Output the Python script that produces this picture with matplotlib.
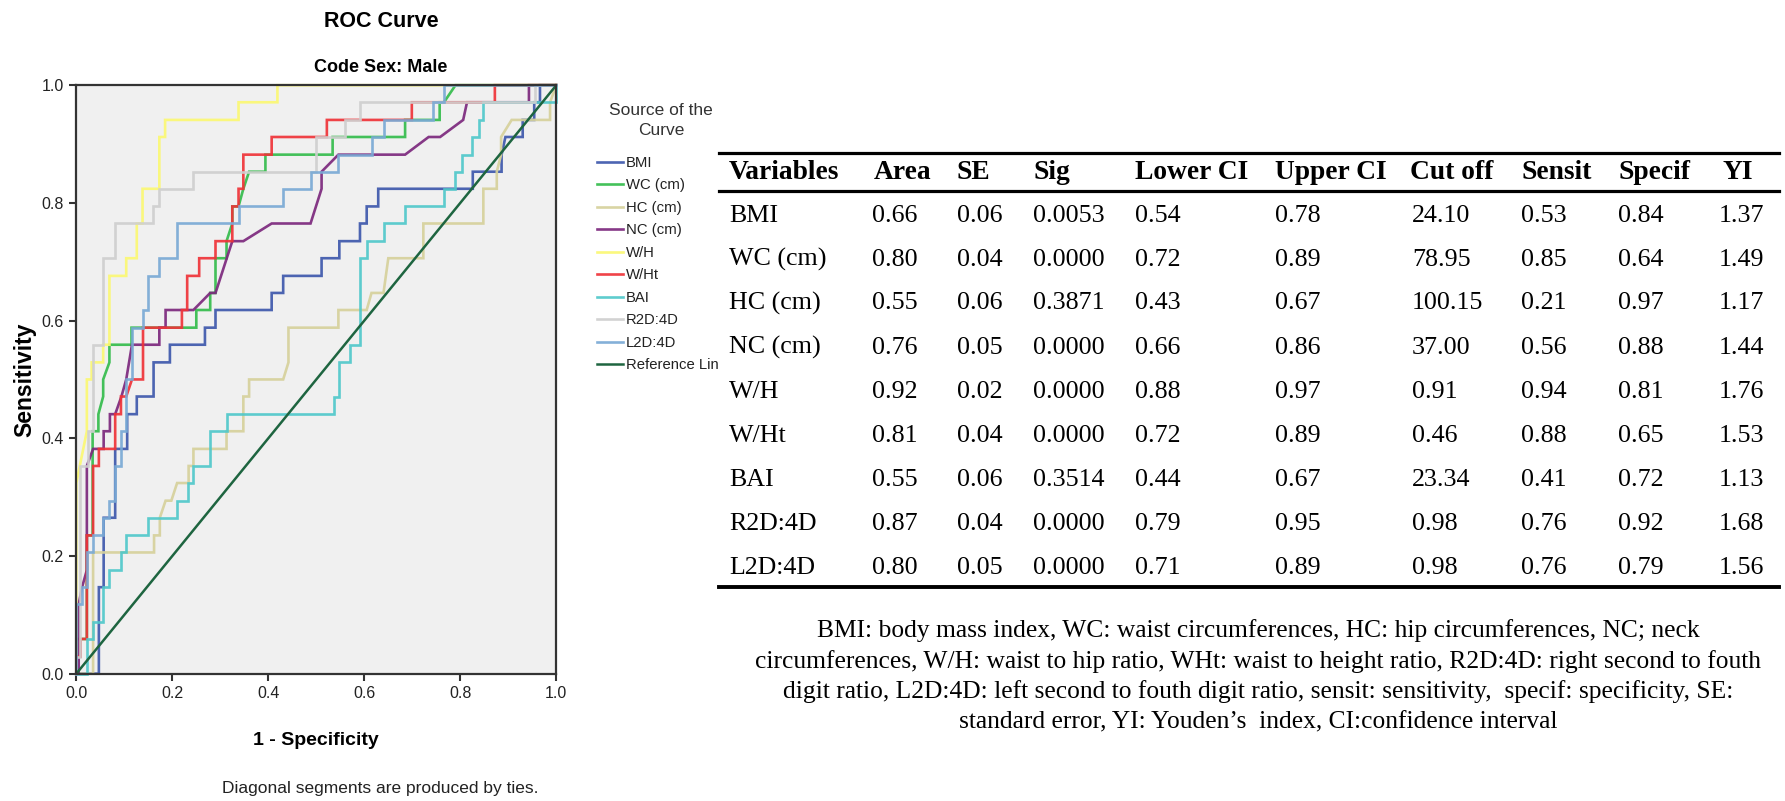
import matplotlib
matplotlib.use("Agg")
import matplotlib.pyplot as plt
from matplotlib.lines import Line2D

W, H = 1785, 801

# ---------------- ROC curve data (1 - specificity, sensitivity) ----------------
bmi_fpr = [0, 0.047, 0.047, 0.057, 0.057, 0.081, 0.081, 0.106, 0.106, 0.126, 0.126, 0.161, 0.161, 0.195, 0.195,
           0.268, 0.268, 0.290, 0.290, 0.407, 0.407, 0.431, 0.431, 0.511, 0.511, 0.548, 0.548, 0.591, 0.591, 0.605,
           0.605, 0.629, 0.629, 0.826, 0.826, 0.886, 0.886, 0.894, 0.930, 0.930, 0.954, 0.954, 0.966, 0.966, 1.0]
bmi_tpr = [0.0, 0.0, 0.147, 0.147, 0.265, 0.265, 0.382, 0.382, 0.441, 0.441, 0.471, 0.471, 0.529, 0.529, 0.559,
           0.559, 0.588, 0.588, 0.618, 0.618, 0.647, 0.647, 0.676, 0.676, 0.706, 0.706, 0.735, 0.735, 0.765, 0.765,
           0.794, 0.794, 0.824, 0.824, 0.853, 0.853, 0.882, 0.912, 0.912, 0.941, 0.941, 0.971, 0.971, 1.0, 1.0]

wc_fpr = [0, 0, 0.022, 0.022, 0.034, 0.034, 0.046, 0.046, 0.056, 0.056, 0.069, 0.069, 0.115, 0.115, 0.250, 0.250,
          0.279, 0.279, 0.290, 0.290, 0.313, 0.313, 0.325, 0.325, 0.338, 0.348, 0.360, 0.394, 0.394, 0.534, 0.534,
          0.685, 0.685, 0.757, 0.757, 0.766, 0.790, 1.0]
wc_tpr = [0.0, 0.059, 0.059, 0.235, 0.235, 0.412, 0.412, 0.441, 0.471, 0.5, 0.529, 0.559, 0.559, 0.588, 0.588,
          0.618, 0.618, 0.647, 0.647, 0.706, 0.706, 0.735, 0.765, 0.794, 0.794, 0.824, 0.853, 0.853, 0.882, 0.882,
          0.912, 0.912, 0.941, 0.941, 0.971, 0.971, 1.0, 1.0]

hc_fpr = [0, 0.035, 0.035, 0.162, 0.162, 0.174, 0.174, 0.186, 0.198, 0.210, 0.234, 0.234, 0.244, 0.244, 0.313,
          0.313, 0.348, 0.348, 0.360, 0.360, 0.431, 0.442, 0.442, 0.546, 0.546, 0.605, 0.615, 0.640, 0.650, 0.723,
          0.723, 0.848, 0.848, 0.876, 0.876, 0.885, 0.885, 0.907, 0.987, 0.987, 1.0]
hc_tpr = [0.0, 0.0, 0.206, 0.206, 0.235, 0.235, 0.265, 0.294, 0.294, 0.324, 0.324, 0.353, 0.353, 0.382, 0.382,
          0.412, 0.412, 0.471, 0.471, 0.5, 0.5, 0.529, 0.588, 0.588, 0.618, 0.618, 0.647, 0.647, 0.706, 0.706,
          0.765, 0.765, 0.824, 0.824, 0.853, 0.882, 0.912, 0.941, 0.941, 0.971, 1.0]

nc_fpr = [0, 0.005, 0.005, 0.012, 0.022, 0.022, 0.035, 0.057, 0.057, 0.070, 0.070, 0.081, 0.094, 0.104, 0.116,
          0.173, 0.173, 0.186, 0.186, 0.244, 0.279, 0.290, 0.325, 0.348, 0.407, 0.488, 0.511, 0.511, 0.546, 0.685,
          0.734, 0.758, 0.806, 0.814, 0.943, 0.943, 1.0]
nc_tpr = [0.0, 0.0, 0.118, 0.147, 0.176, 0.353, 0.382, 0.382, 0.412, 0.412, 0.441, 0.441, 0.471, 0.5, 0.559,
          0.559, 0.588, 0.588, 0.618, 0.618, 0.647, 0.647, 0.735, 0.735, 0.765, 0.765, 0.824, 0.853, 0.882, 0.882,
          0.912, 0.912, 0.941, 0.971, 0.971, 1.0, 1.0]

wh_fpr = [0, 0, 0.022, 0.022, 0.032, 0.032, 0.056, 0.056, 0.069, 0.069, 0.104, 0.104, 0.126, 0.126, 0.138, 0.138,
          0.173, 0.173, 0.185, 0.185, 0.338, 0.338, 0.419, 0.419, 1.0]
wh_tpr = [0.0, 0.324, 0.412, 0.5, 0.5, 0.529, 0.529, 0.559, 0.559, 0.676, 0.676, 0.706, 0.706, 0.765, 0.765, 0.824,
          0.824, 0.912, 0.912, 0.941, 0.941, 0.971, 0.971, 1.0, 1.0]

wht_fpr = [0, 0, 0.009, 0.009, 0.022, 0.022, 0.035, 0.035, 0.047, 0.047, 0.081, 0.081, 0.093, 0.093, 0.104, 0.116,
           0.139, 0.139, 0.220, 0.220, 0.231, 0.231, 0.256, 0.256, 0.290, 0.290, 0.325, 0.325, 0.338, 0.338, 0.348,
           0.348, 0.407, 0.407, 0.522, 0.522, 0.699, 0.699, 0.872, 0.872, 1.0]
wht_tpr = [0.0, 0.029, 0.029, 0.059, 0.059, 0.235, 0.235, 0.353, 0.353, 0.382, 0.382, 0.441, 0.441, 0.471, 0.471,
           0.5, 0.5, 0.588, 0.588, 0.618, 0.618, 0.676, 0.676, 0.706, 0.706, 0.735, 0.735, 0.794, 0.794, 0.824,
           0.824, 0.882, 0.882, 0.912, 0.912, 0.941, 0.941, 0.971, 0.971, 1.0, 1.0]

bai_fpr = [0, 0.022, 0.022, 0.034, 0.034, 0.056, 0.056, 0.069, 0.069, 0.093, 0.093, 0.104, 0.104, 0.150, 0.150,
           0.209, 0.209, 0.233, 0.233, 0.244, 0.244, 0.279, 0.279, 0.313, 0.313, 0.536, 0.536, 0.548, 0.548, 0.570,
           0.570, 0.591, 0.591, 0.605, 0.605, 0.640, 0.640, 0.684, 0.684, 0.767, 0.767, 0.789, 0.789, 0.803, 0.803,
           0.824, 0.824, 0.838, 0.838, 0.848, 0.848, 1.0, 1.0]
bai_tpr = [0.0, 0.0, 0.059, 0.059, 0.088, 0.088, 0.147, 0.147, 0.176, 0.176, 0.206, 0.206, 0.235, 0.235, 0.265,
           0.265, 0.294, 0.294, 0.324, 0.324, 0.353, 0.353, 0.412, 0.412, 0.441, 0.441, 0.471, 0.471, 0.529, 0.529,
           0.559, 0.559, 0.706, 0.706, 0.735, 0.735, 0.765, 0.765, 0.794, 0.794, 0.824, 0.824, 0.853, 0.853, 0.882,
           0.882, 0.912, 0.912, 0.941, 0.941, 0.971, 0.971, 1.0]

r2d_fpr = [0, 0, 0.008, 0.008, 0.024, 0.024, 0.035, 0.035, 0.056, 0.056, 0.081, 0.081, 0.160, 0.160, 0.173, 0.173,
           0.244, 0.244, 0.499, 0.499, 0.560, 0.560, 0.591, 0.591, 0.955, 0.955, 1.0]
r2d_tpr = [0.0, 0.029, 0.029, 0.353, 0.353, 0.412, 0.412, 0.559, 0.559, 0.706, 0.706, 0.765, 0.765, 0.794, 0.794,
           0.824, 0.824, 0.853, 0.853, 0.912, 0.912, 0.941, 0.941, 0.971, 0.971, 1.0, 1.0]

l2d_fpr = [0, 0, 0.011, 0.011, 0.022, 0.022, 0.034, 0.034, 0.056, 0.056, 0.069, 0.069, 0.081, 0.081, 0.093, 0.093,
           0.104, 0.104, 0.115, 0.115, 0.138, 0.138, 0.150, 0.150, 0.173, 0.173, 0.209, 0.209, 0.338, 0.338, 0.430,
           0.430, 0.488, 0.488, 0.546, 0.546, 0.615, 0.615, 0.640, 0.640, 0.744, 0.744, 0.767, 0.767, 1.0]
l2d_tpr = [0.0, 0.118, 0.118, 0.147, 0.147, 0.206, 0.206, 0.235, 0.235, 0.265, 0.265, 0.294, 0.294, 0.353, 0.353,
           0.412, 0.412, 0.5, 0.5, 0.588, 0.588, 0.618, 0.618, 0.676, 0.676, 0.706, 0.706, 0.765, 0.765, 0.794,
           0.794, 0.824, 0.824, 0.853, 0.853, 0.882, 0.882, 0.912, 0.912, 0.941, 0.941, 0.971, 0.971, 1.0, 1.0]

ref_x = [0.0, 1.0]
ref_y = [0.0, 1.0]

curve_labels = ["BMI", "WC (cm)", "HC (cm)", "NC (cm)", "W/H", "W/Ht", "BAI", "R2D:4D", "L2D:4D"]
ref_label = "Reference Lin"
legend_title = "Source of the\nCurve"
curve_colors = ["#3E58AC", "#34BC4C", "#D6D19C", "#7C287D", "#FBF873", "#EF3338", "#50C8CA", "#CFCFCF", "#7AAAD5"]
ref_color = "#1E6540"

tick_values = [0.0, 0.2, 0.4, 0.6, 0.8, 1.0]
tick_labels = ["0.0", "0.2", "0.4", "0.6", "0.8", "1.0"]

# ---------------- table data ----------------
table_header = ["Variables", "Area", "SE", "Sig", "Lower CI", "Upper CI", "Cut off", "Sensit", "Specif", "YI"]
variables = ["BMI", "WC (cm)", "HC (cm)", "NC (cm)", "W/H", "W/Ht", "BAI", "R2D:4D", "L2D:4D"]
area = [0.66, 0.80, 0.55, 0.76, 0.92, 0.81, 0.55, 0.87, 0.80]
se = [0.06, 0.04, 0.06, 0.05, 0.02, 0.04, 0.06, 0.04, 0.05]
sig = [0.0053, 0.0000, 0.3871, 0.0000, 0.0000, 0.0000, 0.3514, 0.0000, 0.0000]
lower_ci = [0.54, 0.72, 0.43, 0.66, 0.88, 0.72, 0.44, 0.79, 0.71]
upper_ci = [0.78, 0.89, 0.67, 0.86, 0.97, 0.89, 0.67, 0.95, 0.89]
cut_off = [24.10, 78.95, 100.15, 37.00, 0.91, 0.46, 23.34, 0.98, 0.98]
sensit = [0.53, 0.85, 0.21, 0.56, 0.94, 0.88, 0.41, 0.76, 0.76]
specif = [0.84, 0.64, 0.97, 0.88, 0.81, 0.65, 0.72, 0.92, 0.79]
yi = [1.37, 1.49, 1.17, 1.44, 1.76, 1.53, 1.13, 1.68, 1.56]

footnote = [
    "BMI: body mass index, WC: waist circumferences, HC: hip circumferences, NC; neck",
    "circumferences, W/H: waist to hip ratio, WHt: waist to height ratio, R2D:4D: right second to fouth",
    "digit ratio, L2D:4D: left second to fouth digit ratio, sensit: sensitivity,  specif: specificity, SE:",
    "standard error, YI: Youden\u2019s  index, CI:confidence interval",
]

# ---------------- figure ----------------
SANS = ["Liberation Sans", "DejaVu Sans"]
SERIF = ["Liberation Serif", "DejaVu Serif"]


def fx(px):
    return px / W


def fy(py):
    return 1 - py / H


fig = plt.figure(figsize=(W / 100, H / 100), dpi=100)
fig.patch.set_facecolor("white")

ax = fig.add_axes([fx(76.3), fy(673.7), 480 / W, 588.5 / H])
ax.set_facecolor("#F0F0F0")

series = [(bmi_fpr, bmi_tpr), (wc_fpr, wc_tpr), (hc_fpr, hc_tpr), (nc_fpr, nc_tpr), (wh_fpr, wh_tpr),
          (wht_fpr, wht_tpr), (bai_fpr, bai_tpr), (r2d_fpr, r2d_tpr), (l2d_fpr, l2d_tpr)]
handles = []
for (xs, ys), lab, col in zip(series, curve_labels, curve_colors):
    ln, = ax.plot(xs, ys, color=col, lw=1.9, alpha=0.92, label=lab, solid_joinstyle="miter", clip_on=False)
    handles.append(ln)
rl, = ax.plot(ref_x, ref_y, color=ref_color, lw=1.8, label=ref_label)
handles.append(rl)

ax.set_xlim(0, 1)
ax.set_ylim(0, 1)
ax.set_xticks(tick_values)
ax.set_xticklabels(tick_labels)
ax.set_yticks(tick_values)
ax.set_yticklabels(tick_labels)
for lbl in ax.get_xticklabels() + ax.get_yticklabels():
    lbl.set_fontfamily(SANS)
    lbl.set_fontsize(11.5)
    lbl.set_color("#222222")
ax.tick_params(direction="out", length=5, width=1.5, color="#333333", pad=4)
for sp in ax.spines.values():
    sp.set_color("#333333")
    sp.set_linewidth(1.6)

ax.set_xlabel("1 - Specificity", fontsize=14, fontweight="bold", family=SANS, labelpad=22)
ax.set_ylabel("Sensitivity", fontsize=16.5, fontweight="bold", family=SANS, labelpad=4)

fig.text(fx(381), fy(21.5), "ROC Curve", ha="center", va="center", fontsize=15.5, fontweight="bold", family=SANS)
fig.text(fx(381), fy(68), "Code Sex: Male", ha="center", va="center", fontsize=13, fontweight="bold", family=SANS)
fig.text(fx(380), fy(788), "Diagonal segments are produced by ties.", ha="center", va="center",
         fontsize=12.5, family=SANS, color="#222222")

# legend (title placed as its own text, entries via legend)
fig.text(fx(661), fy(120.5), legend_title, ha="center", va="center", fontsize=12.5, family=SANS,
         color="#333333", linespacing=1.45, multialignment="center")
leg = fig.legend(handles=handles, labels=curve_labels + [ref_label], loc="upper left",
                 bbox_to_anchor=(fx(597), fy(156)), bbox_transform=fig.transFigure, frameon=False,
                 borderpad=0, borderaxespad=0, handlelength=1.75, handletextpad=0.2, labelspacing=0.57,
                 prop={"family": SANS, "size": 10.7})
for t in leg.get_texts():
    t.set_color("#222222")

# ---------------- table ----------------
header_x = [729, 874, 956, 1033, 1135, 1275, 1410, 1521, 1618, 1722]
body_x = [729, 872, 957, 1033, 1135, 1275, 1412, 1521, 1618, 1719]
header_baseline = 179
row_baseline0 = 221.5
row_step = 44.0

rule_left, rule_right = 719, 1779
for ypx, lw in [(153, 2.3), (191, 2.3), (587, 2.8)]:
    fig.add_artist(Line2D([fx(rule_left), fx(rule_right)], [fy(ypx), fy(ypx)], color="black", lw=lw,
                          transform=fig.transFigure))

for txt, xp in zip(table_header, header_x):
    fig.text(fx(xp), fy(header_baseline), txt, ha="left", va="baseline", fontsize=19.8, fontweight="bold",
             family=SERIF)

formats = ["%.2f", "%.2f", "%.4f", "%.2f", "%.2f", "%.2f", "%.2f", "%.2f", "%.2f"]
columns = [area, se, sig, lower_ci, upper_ci, cut_off, sensit, specif, yi]
for i, var in enumerate(variables):
    yb = row_baseline0 + i * row_step
    fig.text(fx(body_x[0]), fy(yb), var, ha="left", va="baseline", fontsize=18.7, family=SERIF)
    for j, (col, fmt) in enumerate(zip(columns, formats)):
        fig.text(fx(body_x[j + 1]), fy(yb), fmt % col[i], ha="left", va="baseline", fontsize=18.7,
                 family=SERIF)

for k, line in enumerate(footnote):
    fig.text(fx(1258), fy(631 + k * 30.5), line, ha="center", va="center", fontsize=18.4, family=SERIF)

fig.savefig("out.png", dpi=100, facecolor="white")
